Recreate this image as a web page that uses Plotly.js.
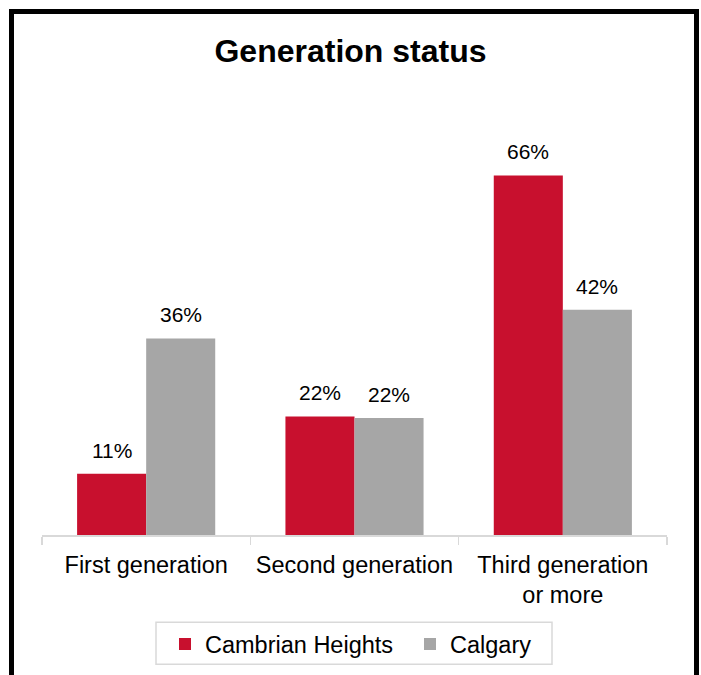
<!DOCTYPE html>
<html>
<head>
<meta charset="utf-8">
<script src="https://cdn.plot.ly/plotly-3.0.1.min.js"></script>
<style>
  html, body { margin: 0; padding: 0; width: 701px; height: 675px; overflow: hidden; background: #fff; }
  #chart { position: absolute; left: 0; top: 0; width: 701px; height: 675px; }
  #frame { position: absolute; left: 9px; top: 9px; width: 690px; height: 720px; box-sizing: border-box; border: 5px solid #000; pointer-events: none; }
</style>
</head>
<body>
<div id="chart"></div>
<div id="frame"></div>
<script>
const categories = ["First generation", "Second generation", "Third generation<br>or more"];
const seriesNames = ["Cambrian Heights", "Calgary"];
const cambrianValues = [11.3, 21.9, 66.4];
const calgaryValues = [36.3, 21.6, 41.6];
const cambrianLabels = ["11%", "22%", "66%"];
const calgaryLabels = ["36%", "22%", "42%"];

const FONT = '"Liberation Sans", Arial, sans-serif';
const RED = '#C8102E';
const GRAY = '#A6A6A6';

const traces = [
  { type: 'bar', name: seriesNames[0], x: categories, y: cambrianValues,
    marker: { color: RED }, hoverinfo: 'skip' },
  { type: 'bar', name: seriesNames[1], x: categories, y: calgaryValues,
    marker: { color: GRAY }, hoverinfo: 'skip' }
];

const annotations = [];
const halfBar = 34.6;
categories.forEach((c, i) => {
  annotations.push({ x: c, y: cambrianValues[i], text: cambrianLabels[i], xref: 'x', yref: 'y',
    showarrow: false, xshift: -halfBar, yanchor: 'bottom', yshift: 10,
    font: { family: FONT, size: 21, color: '#000' } });
  annotations.push({ x: c, y: calgaryValues[i], text: calgaryLabels[i], xref: 'x', yref: 'y',
    showarrow: false, xshift: halfBar, yanchor: 'bottom', yshift: 10,
    font: { family: FONT, size: 21, color: '#000' } });
});

const layout = {
  width: 701, height: 675,
  margin: { l: 42, r: 34, t: 155.5, b: 139.5, autoexpand: false },
  paper_bgcolor: '#fff', plot_bgcolor: '#fff',
  font: { family: FONT, color: '#000' },
  title: { text: '<b>Generation status</b>', font: { family: FONT, size: 32, color: '#000' },
           x: 0.5, xanchor: 'center', xref: 'container', yref: 'container', y: 1 - 51/675, yanchor: 'middle' },
  barmode: 'group', bargap: 0.337, bargroupgap: 0,
  xaxis: {
    type: 'category', range: [-0.5, 2.5], automargin: false,
    showline: true, linecolor: '#D9D9D9', linewidth: 1.5,
    ticks: 'outside', tickson: 'boundaries', ticklen: 8, tickcolor: '#D9D9D9', tickwidth: 1.5,
    ticklabelstandoff: 8,
    tickfont: { family: FONT, size: 23.5, color: '#000' },
    showgrid: false, zeroline: false, fixedrange: true
  },
  yaxis: {
    range: [0, 70], visible: false, showgrid: false, zeroline: false, fixedrange: true, automargin: false
  },
  showlegend: true,
  legend: {
    orientation: 'h', x: 0.1968, xanchor: 'left', y: -0.2303, yanchor: 'top',
    borderwidth: 0, bgcolor: 'rgba(0,0,0,0)',
    entrywidth: 200, entrywidthmode: 'pixels',
    font: { family: FONT, size: 23.5, color: '#000' },
    traceorder: 'normal'
  },
  shapes: [{
    type: 'rect', xref: 'paper', yref: 'paper',
    x0: 0.1824, x1: 0.816, y0: -0.3408, y1: -0.2303,
    line: { color: '#D9D9D9', width: 1.5 }, fillcolor: 'rgba(0,0,0,0)', layer: 'below'
  }],
  annotations: annotations
};

Plotly.newPlot('chart', traces, layout, { displayModeBar: false, staticPlot: true });
</script>
</body>
</html>
